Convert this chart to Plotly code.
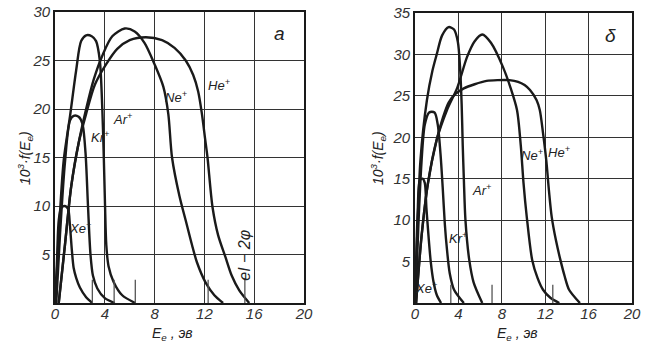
import plotly.graph_objects as go

# ---------- panel a ----------
xe_a_E = [0, 0.15, 0.3, 0.5, 0.8, 1.05, 1.2, 1.35, 1.5, 1.7, 2.0, 2.5, 3.0]
xe_a_f = [0, 4, 8.5, 9.8, 10.0, 9.7, 8.0, 5.5, 3.6, 2.6, 1.6, 0.6, 0]
kr_a_E = [0.1, 0.4, 0.8, 1.2, 1.5, 1.9, 2.2, 2.45, 2.65, 2.85, 3.05, 3.4, 4.0, 4.8]
kr_a_f = [0, 7, 14.5, 18.8, 19.3, 19.2, 18.5, 15.5, 10, 5, 2.8, 1.5, 0.5, 0]
ar_a_E = [0.05, 0.3, 0.7, 1.2, 1.7, 2.1, 2.5, 2.95, 3.3, 3.6, 3.8, 3.92, 4.02, 4.12, 4.3, 4.7, 5.4, 6.45]
ar_a_f = [0, 7, 14.7, 19.2, 24, 27, 27.6, 27.5, 27, 25, 20, 15, 10, 6, 3.8, 2.2, 0.8, 0]
ne_a_E = [0.3, 0.8, 1.3, 1.9, 2.5, 3.1, 3.8, 4.6, 5.6, 6.4, 7.2, 8.0, 8.7, 9.1, 9.4, 10.0, 10.5, 11.0, 11.4, 12.1, 12.8, 13.5]
ne_a_f = [0, 6, 12, 16.5, 20, 23, 25.5, 27.5, 28.3, 28, 26.8, 24.6, 22.3, 19.5, 15, 11, 8.5, 6, 4.2, 2.1, 0.8, 0]
he_a_E = [0.3, 0.8, 1.3, 1.9, 2.5, 3.2, 4.1, 5.0, 6.0, 7.3, 8.6, 9.6, 10.5, 11.1, 11.5, 11.8, 12.05, 12.25, 12.65, 13.1, 13.7, 14.2, 14.8, 15.6]
he_a_f = [0, 6, 12, 16.5, 19.5, 22.5, 24.6, 26.2, 27.1, 27.4, 27.1, 26.3, 25, 23.5, 21.8, 19.5, 17, 15, 9.9, 7, 4.7, 2.8, 1.3, 0]
marks_a_E = [3.0, 4.75, 6.45, 12.3, 15.25]
marks_a_h = [2.4, 2.4, 2.4, 2.4, 2.4]

# ---------- panel б ----------
xe_b_E = [0, 0.1, 0.25, 0.45, 0.7, 0.9, 1.05, 1.25, 1.45, 1.7, 2.0, 2.4]
xe_b_f = [0, 5, 11, 14.8, 15, 14.5, 11.5, 8, 5, 2.6, 1.0, 0]
kr_b_E = [0.05, 0.3, 0.6, 0.9, 1.3, 1.8, 2.1, 2.35, 2.55, 2.75, 2.95, 3.2, 3.6, 4.5]
kr_b_f = [0, 9, 17, 21.5, 23, 23, 21.5, 18, 14, 9.5, 6.4, 3.6, 1.6, 0]
ar_b_E = [0, 0.2, 0.5, 1.1, 1.6, 2.0, 2.5, 3.1, 3.6, 3.95, 4.15, 4.3, 4.4, 4.5, 4.65, 5.0, 5.4, 6.2]
ar_b_f = [0, 8, 17.2, 24.5, 28, 30, 32.3, 33.3, 33, 31.5, 28.5, 24, 19, 15, 10, 5.2, 2.5, 0]
ne_b_E = [0.1, 0.6, 1.2, 2.0, 2.95, 3.9, 4.8, 5.5, 6.2, 7.0, 8.1, 8.8, 9.4, 9.75, 10.0, 10.3, 10.8, 11.3, 11.8, 12.5, 13.3]
ne_b_f = [0, 8, 14.5, 19.7, 23.3, 26, 29.7, 31.6, 32.4, 31.4, 28.5, 26, 23.3, 19, 14.5, 10.4, 5.2, 3, 1.6, 0.6, 0]
he_b_E = [0.1, 0.6, 1.2, 2.0, 2.6, 3.1, 3.7, 4.5, 5.5, 6.6, 7.6, 8.7, 9.5, 10.1, 10.6, 11.2, 11.5, 11.8, 12.1, 12.35, 12.6, 13.0, 13.4, 13.8, 14.2, 15.2]
he_b_f = [0, 8, 14.5, 19.7, 22.5, 24.2, 25.2, 25.9, 26.4, 26.8, 26.9, 26.9, 26.7, 26.3, 25.7, 24.5, 23.3, 20.5, 17.2, 13.5, 10.4, 7.5, 5.2, 3.2, 1.6, 0]
marks_b_E = [3.3, 7.1, 12.7]
marks_b_h = [2.2, 2.2, 2.2]

x_ticks = [0, 4, 8, 12, 16, 20]
y_ticks_a = [5, 10, 15, 20, 25, 30]
y_ticks_b = [5, 10, 15, 20, 25, 30, 35]

INK = "#1a1a1a"
W, H = 647, 350

fig = go.Figure()

def curve(E, f, xa, ya):
    fig.add_trace(go.Scatter(x=E, y=f, xaxis=xa, yaxis=ya, mode="lines",
                             line=dict(color=INK, width=2.4, shape="spline", smoothing=0.8),
                             hoverinfo="skip"))

def marks(E, h, xa, ya):
    xs, ys = [], []
    for e, hh in zip(E, h):
        xs += [e, e, None]
        ys += [0, hh, None]
    fig.add_trace(go.Scatter(x=xs, y=ys, xaxis=xa, yaxis=ya, mode="lines",
                             line=dict(color="#555", width=1.3), hoverinfo="skip"))

for E, f in [(xe_a_E, xe_a_f), (kr_a_E, kr_a_f), (ar_a_E, ar_a_f), (ne_a_E, ne_a_f), (he_a_E, he_a_f)]:
    curve(E, f, "x", "y")
marks(marks_a_E, marks_a_h, "x", "y")
for E, f in [(xe_b_E, xe_b_f), (kr_b_E, kr_b_f), (ar_b_E, ar_b_f), (ne_b_E, ne_b_f), (he_b_E, he_b_f)]:
    curve(E, f, "x2", "y2")
marks(marks_b_E, marks_b_h, "x2", "y2")

tickfont = dict(family="Liberation Sans", size=15, color="#333", style="italic")
axis_common = dict(showgrid=True, gridcolor="#333", gridwidth=1.2, showline=True, mirror=True,
                   linecolor=INK, linewidth=1.6, zeroline=False, ticks="", tickfont=tickfont,
                   fixedrange=True, automargin=False)

fig.update_layout(
    width=W, height=H, margin=dict(l=0, r=0, t=0, b=0, autoexpand=False),
    paper_bgcolor="white", plot_bgcolor="white", showlegend=False,
    xaxis=dict(domain=[55 / W, 304 / W], range=[0, 20], tickvals=x_ticks, anchor="y",
               ticklabelstandoff=-4, **axis_common),
    yaxis=dict(domain=[1 - 303 / H, 1 - 12 / H], range=[0, 30], tickvals=y_ticks_a, anchor="x", **axis_common),
    xaxis2=dict(domain=[415 / W, 632 / W], range=[0, 20], tickvals=x_ticks, anchor="y2",
                ticklabelstandoff=-4, **axis_common),
    yaxis2=dict(domain=[1 - 303 / H, 1 - 13 / H], range=[0, 35], tickvals=y_ticks_b, anchor="x2", **axis_common),
)

lab = dict(family="Liberation Sans", size=13, color="#222", style="italic")
def note(text, x, y, xr, yr, size=13, angle=0):
    f = dict(lab)
    f["size"] = size
    fig.add_annotation(text=text, x=x, y=y, xref=xr, yref=yr, showarrow=False, font=f,
                       textangle=angle, xanchor="center", yanchor="middle")

# panel a labels
note("He<sup>+</sup>", 13.2, 22.5, "x", "y")
note("Ne<sup>+</sup>", 9.7, 21.2, "x", "y")
note("Ar<sup>+</sup>", 5.4, 19.0, "x", "y")
note("Kr<sup>+</sup>", 3.6, 17.1, "x", "y")
note("Xe<sup>+</sup>", 2.0, 7.7, "x", "y")
note("eI − 2φ", 15.2, 4.9, "x", "y", size=16, angle=-90)
note("a", 18.0, 27.8, "x", "y", size=19)
# panel б labels
note("Ne<sup>+</sup>", 10.8, 17.9, "x2", "y2")
note("He<sup>+</sup>", 13.3, 18.2, "x2", "y2")
note("Ar<sup>+</sup>", 6.1, 13.6, "x2", "y2")
note("Kr<sup>+</sup>", 4.0, 7.8, "x2", "y2")
note("Xe<sup>+</sup>", 1.0, 1.8, "x2", "y2")
note("δ", 18.0, 32.3, "x2", "y2", size=19)

# axis titles
ttl = dict(family="Liberation Sans", size=14, color="#222", style="italic")
for xp, yp, ang, txt in [(25 / W, 1 - 158 / H, -90, "10<sup>3</sup>·f(E<sub>e</sub>)"),
                         (378 / W, 1 - 158 / H, -90, "10<sup>3</sup>·f(E<sub>e</sub>)"),
                         (172 / W, 1 - 334 / H, 0, "E<sub>e</sub> , эв"),
                         (517 / W, 1 - 334 / H, 0, "E<sub>e</sub> , эв")]:
    fig.add_annotation(text=txt, x=xp, y=yp, xref="paper", yref="paper", showarrow=False,
                       font=ttl, textangle=ang, xanchor="center", yanchor="middle")

fig.write_html("out.html")
